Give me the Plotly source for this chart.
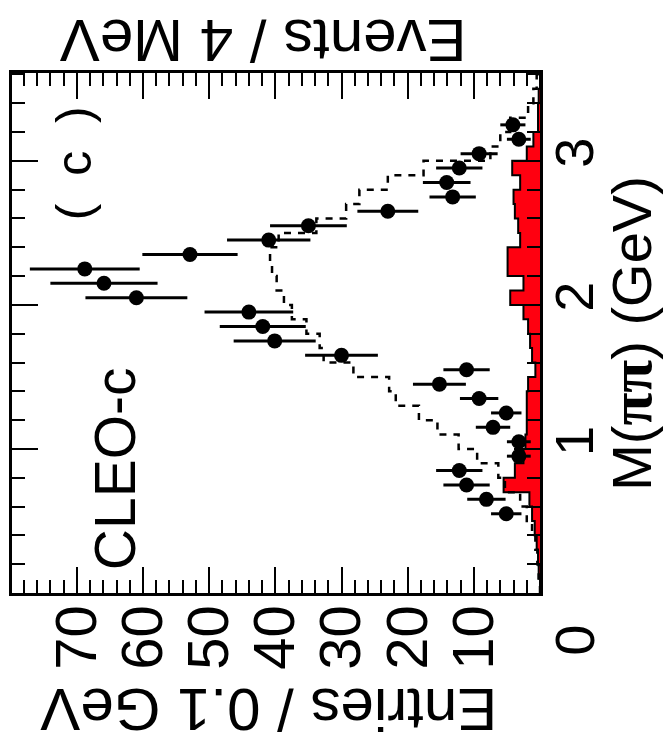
import plotly.graph_objects as go

# ---------------- data ----------------
# histogram bin edges in M(pipi) [GeV] (0.1 GeV bins)
bin_edges = [0.0, 0.1, 0.2, 0.3, 0.4, 0.5, 0.6, 0.7, 0.8, 0.9, 1.0, 1.1, 1.2,
             1.3, 1.4, 1.5, 1.6, 1.7, 1.8, 1.9, 2.0, 2.1, 2.2, 2.3, 2.4, 2.5,
             2.6, 2.7, 2.8, 2.9, 3.0, 3.1, 3.2, 3.3, 3.4, 3.5, 3.6]

# red filled background histogram (entries per bin)
red_hist = [0.0, 0.2, 0.3, 0.5, 0.8, 1.2, 1.6, 5.5, 3.8, 2.5, 2.2, 2.0,
            2.0, 2.0, 1.8, 0.7, 1.2, 1.5, 1.8, 2.5, 4.5, 2.5, 4.9, 4.9,
            3.0, 3.3, 3.8, 4.0, 3.0, 4.2, 2.0, 1.0, 0.3, 0.3, 0.2, 0.0]

# dashed histogram
dash_hist = [0.0, 0.2, 0.4, 0.7, 1.2, 2.0, 3.0, 5.3, 6.3, 9.5, 12.3, 15.5,
             18.3, 21.8, 22.8, 28.2, 32.7, 33.3, 35.3, 37.5, 38.7, 39.8, 40.5, 40.8,
             39.5, 33.8, 29.3, 27.3, 23.0, 17.6, 7.5, 6.0, 4.5, 1.8, 1.0, 0.5]

# data points
pt_mass = [0.55, 0.65, 0.75, 0.85, 0.95, 1.05, 1.15, 1.25, 1.35, 1.45,
           1.55, 1.65, 1.75, 1.85, 1.95, 2.05, 2.15, 2.25, 2.35, 2.45,
           2.55, 2.65, 2.75, 2.85, 2.95, 3.05, 3.15, 3.25]
pt_entries = [5.1, 8.1, 11.1, 12.2, 3.2, 3.2, 7.1, 5.1, 9.2, 15.2,
              11.1, 30.0, 40.1, 41.9, 44.0, 61.0, 65.9, 68.8, 52.9, 41.0,
              35.0, 23.0, 13.2, 14.1, 12.2, 9.2, 3.2, 4.1]
pt_err = [2.3, 2.9, 3.5, 3.5, 1.8, 1.8, 2.6, 2.3, 2.9, 4.0,
          3.5, 5.5, 6.2, 6.5, 6.7, 7.7, 8.1, 8.3, 7.2, 6.3,
          5.8, 4.6, 3.5, 3.6, 3.5, 2.8, 1.8, 1.9]

entries_ticks = [10, 20, 30, 40, 50, 60, 70]
mass_ticks = [1, 2, 3]

FONT = "Liberation Sans, Arial, Helvetica, sans-serif"


def step_path(values, edges):
    xs = [0.0] + list(values) + [0.0]
    ys = [edges[0]] + list(edges[:-1]) + [edges[-1]]
    return xs, ys


fig = go.Figure()

rx, ry = step_path(red_hist, bin_edges)
fig.add_trace(go.Scatter(x=rx, y=ry, mode="lines", line=dict(shape="vh", color="black", width=2),
                         fill="tozerox", fillcolor="#ff0010", hoverinfo="skip", showlegend=False))

dx, dy = step_path(dash_hist, bin_edges)
fig.add_trace(go.Scatter(x=dx, y=dy, mode="lines",
                         line=dict(shape="vh", color="black", width=2.5, dash="7px,7px"),
                         hoverinfo="skip", showlegend=False))

fig.add_trace(go.Scatter(x=pt_entries, y=pt_mass, mode="markers",
                         marker=dict(size=15, color="black"),
                         error_x=dict(type="data", array=pt_err, width=0, thickness=3, color="black"),
                         showlegend=False))

axis_common = dict(showline=True, linewidth=3, linecolor="black", mirror="ticks",
                   ticks="inside", ticklen=26, tickwidth=2, tickcolor="black",
                   showgrid=False, zeroline=False)

fig.update_xaxes(range=[79.8, 0], tickvals=entries_ticks, ticktext=[str(v) for v in entries_ticks],
                 tickangle=-90, tickfont=dict(family=FONT, size=58, color="black"),
                 ticklabelstandoff=-14,
                 minor=dict(dtick=2, ticklen=13, tickwidth=2, ticks="inside", tickcolor="black"),
                 **axis_common)
fig.update_yaxes(range=[0, 3.61], side="right", tickvals=mass_ticks, ticktext=[str(v) for v in mass_ticks],
                 tickangle=-90, tickfont=dict(family=FONT, size=54, color="black"),
                 ticklabelstandoff=-15,
                 minor=dict(dtick=0.2, ticklen=13, tickwidth=2, ticks="inside", tickcolor="black"),
                 **axis_common)

ann = [
    dict(text="Events / 4 MeV", x=0.475, y=1.0635, textangle=180, size=60),
    dict(text="Entries / 0.1 GeV", x=0.486, y=-0.225, textangle=180, size=60),
    dict(text="M(<span style='font-family:Liberation Serif;font-size:60px'><b>ππ</b></span>) (GeV)",
         x=1.172, y=0.5, textangle=-90, size=56),
    dict(text="(  c  )", x=0.118, y=0.827, textangle=-90, size=50),
    dict(text="CLEO-c", x=0.195, y=0.24, textangle=-90, size=57),
    dict(text="0", x=1.066, y=-0.09, textangle=-90, size=56),
]
fig.update_layout(
    width=664, height=748,
    margin=dict(l=9, r=124, t=73, b=155),
    paper_bgcolor="white", plot_bgcolor="white",
    annotations=[dict(text=a["text"], x=a["x"], y=a["y"], xref="paper", yref="paper",
                      xanchor="center", yanchor="middle", showarrow=False, textangle=a["textangle"],
                      font=dict(family=FONT, size=a["size"], color="black")) for a in ann],
)

fig.write_html("out.html")
